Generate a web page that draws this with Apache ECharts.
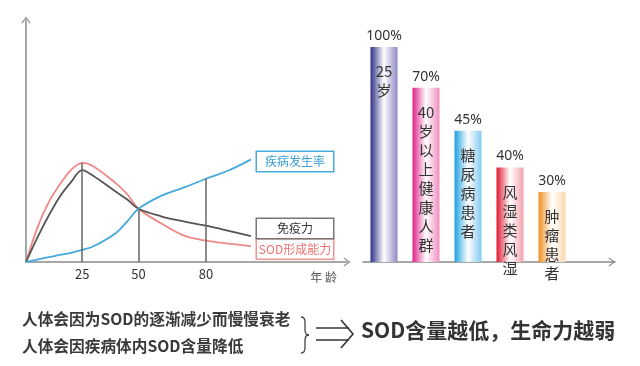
<!DOCTYPE html>
<html>
<head>
<meta charset="utf-8">
<script src="https://cdn.jsdelivr.net/npm/echarts@6/dist/echarts.min.js"></script>
<style>
html,body{margin:0;padding:0;background:#fff;}
#chart{width:640px;height:366px;}
</style>
</head>
<body>
<div id="chart"></div>
<script>
// ---- Left chart data (age vs relative level) ----
const ages = [0, 5, 10, 15, 20, 25, 30, 40, 45, 50, 60, 70, 80, 90, 100];
const sodAbility = [0, 14, 24.5, 32, 38, 41, 39.5, 32.5, 28, 22, 16, 11, 8.8, 7.6, 6.6];
const immunity = [0, 10, 19, 27, 33, 38, 35.5, 29, 25.8, 22, 18.9, 16.8, 15, 12.9, 10.7];
const diseaseRate = [0, 1, 2, 2.9, 3.8, 5, 6.5, 12, 16.8, 22, 27.3, 30.7, 34.4, 37.8, 42.4];
const ageTicks = [25, 50, 80];
const lineNames = ['疾病发生率', '免疫力', 'SOD形成能力'];

// ---- Right chart data ----
const groups = ['25\n岁', '40\n岁\n以\n上\n健\n康\n人\n群', '糖\n尿\n病\n患\n者', '风\n湿\n类\n风\n湿', '肿\n瘤\n患\n者'];
const percentLabels = ['100%', '70%', '45%', '40%', '30%'];
const barLength = [100, 81, 61, 44, 32.6];

// ---- Bottom texts ----
const noteLines = ['人体会因为SOD的逐渐减少而慢慢衰老', '人体会因疾病体内SOD含量降低'];
const conclusion = 'SOD含量越低，生命力越弱';

const FONT = '"Noto Sans CJK SC", "Noto Sans", sans-serif';
const barGrad = [
  ['#303088', '#ffffff', '#8e8ac6'],
  ['#e0208a', '#ffffff', '#ef8fc0'],
  ['#1c9fe0', '#ffffff', '#86caf0'],
  ['#e0182e', '#ffffff', '#f2a2aa'],
  ['#f29020', '#ffffff', '#fcd9b2']
];

const chevron = 'path://M0,7 L5,0 L10,7 L8.8,7.6 L5,2 L1.2,7.6 Z';

function pairs(vals) { return ages.map((a, i) => [a, vals[i]]); }

const dropData = ageTicks.map(a => {
  const i = ages.indexOf(a);
  const h = Math.max(sodAbility[i], immunity[i], diseaseRate[i]);
  return [{ coord: [a, 0] }, { coord: [a, h] }];
});

function endLbl(name, color, textColor, dy) {
  return {
    show: true,
    formatter: '{t|' + name + '}',
    distance: 6,
    offset: [0, dy],
    borderColor: color,
    borderWidth: 1.5,
    backgroundColor: '#fff',
    padding: [2, 0],
    rich: { t: { width: 76, align: 'center', color: textColor, fontSize: 12, lineHeight: 15, fontFamily: FONT } }
  };
}

const chart = echarts.init(document.getElementById('chart'), null, { renderer: 'canvas' });

const braceStyle = { stroke: '#444', lineWidth: 1.3, fill: null };
const arrowStyle = { stroke: '#333', lineWidth: 1.6, fill: null };

const option = {
  backgroundColor: '#fff',
  animation: false,
  grid: [
    { left: 26, top: 20, width: 321, bottom: 104 },
    { left: 363, top: 47, width: 252, bottom: 104 }
  ],
  xAxis: [
    {
      type: 'value', gridIndex: 0, min: 0, max: 142.67,
      axisLine: { show: true, lineStyle: { color: '#8a8a8a', width: 1.5 }, symbol: ['none', chevron], symbolSize: [10, 7] },
      axisTick: { show: false },
      splitLine: { show: false },
      axisLabel: { customValues: ageTicks, color: '#333', fontSize: 13, margin: 6, fontFamily: FONT },
      name: '年 龄', nameLocation: 'end', nameGap: -10,
      nameTextStyle: { align: 'right', verticalAlign: 'top', padding: [9, 0, 0, 0], color: '#555', fontSize: 12, fontFamily: FONT }
    },
    {
      type: 'category', gridIndex: 1, data: groups.concat(['']),
      axisLine: { show: true, lineStyle: { color: '#8a8a8a', width: 1.5 }, symbol: ['none', chevron], symbolSize: [10, 7], symbolOffset: [0, -3] },
      axisTick: { show: false },
      axisLabel: { show: false },
      splitLine: { show: false }
    }
  ],
  yAxis: [
    {
      type: 'value', gridIndex: 0, min: 0, max: 100,
      axisLine: { show: true, lineStyle: { color: '#8a8a8a', width: 1.5 }, symbol: ['none', chevron], symbolSize: [10, 7] },
      axisTick: { show: false }, axisLabel: { show: false }, splitLine: { show: false }
    },
    {
      type: 'value', gridIndex: 1, min: 0, max: 100, show: false
    }
  ],
  series: [
    {
      name: lineNames[2], type: 'line', xAxisIndex: 0, yAxisIndex: 0,
      data: pairs(sodAbility), smooth: 0.35, symbol: 'none',
      lineStyle: { color: '#f08888', width: 1.8 },
      endLabel: endLbl(lineNames[2], '#f29494', '#ef7070', 3),
      z: 3
    },
    {
      name: lineNames[1], type: 'line', xAxisIndex: 0, yAxisIndex: 0,
      data: pairs(immunity), smooth: 0.35, symbol: 'none',
      lineStyle: { color: '#555', width: 1.8 },
      endLabel: endLbl(lineNames[1], '#777', '#333', -7.5),
      z: 3
    },
    {
      name: lineNames[0], type: 'line', xAxisIndex: 0, yAxisIndex: 0,
      data: pairs(diseaseRate), smooth: 0.4, symbol: 'none',
      lineStyle: { color: '#45aadb', width: 1.8 },
      endLabel: endLbl(lineNames[0], '#45aadb', '#3a9fd4', 2),
      markLine: {
        silent: true, symbol: ['none', 'none'], label: { show: false },
        lineStyle: { color: '#666', width: 1.5, type: 'solid' },
        data: dropData
      },
      z: 3
    },
    {
      type: 'bar', xAxisIndex: 1, yAxisIndex: 1, barWidth: 27,
      data: barLength.map((v, i) => ({
        value: v,
        itemStyle: {
          color: {
            type: 'linear', x: 0, y: 0, x2: 1, y2: 0,
            colorStops: [
              { offset: 0, color: barGrad[i][0] },
              { offset: 0.5, color: barGrad[i][1] },
              { offset: 1, color: barGrad[i][2] }
            ]
          }
        }
      })),
      label: {
        show: true, position: 'top', distance: 4,
        formatter: p => percentLabels[p.dataIndex],
        color: '#333', fontSize: 14, fontFamily: '"Noto Sans", sans-serif'
      }
    },
    {
      type: 'bar', xAxisIndex: 1, yAxisIndex: 1, barWidth: 27, barGap: '-100%',
      data: barLength.slice(),
      itemStyle: { color: 'rgba(0,0,0,0)' },
      label: {
        show: true, position: 'insideTop', distance: 15,
        formatter: p => groups[p.dataIndex],
        color: '#333', fontSize: 15, lineHeight: 19, fontFamily: FONT
      },
      z: 4
    }
  ],
  graphic: {
    elements: [
      { type: 'text', x: 22, y: 311, style: { text: noteLines[0], fill: '#3a3a3a', font: 'bold 15.7px ' + FONT } },
      { type: 'text', x: 22, y: 338, style: { text: noteLines[1], fill: '#3a3a3a', font: 'bold 15.7px ' + FONT } },
      { type: 'bezierCurve', shape: { x1: 301, y1: 317, cpx1: 305, cpy1: 317, x2: 305, y2: 322 }, style: braceStyle },
      { type: 'line', shape: { x1: 305, y1: 322, x2: 305, y2: 330 }, style: braceStyle },
      { type: 'bezierCurve', shape: { x1: 305, y1: 330, cpx1: 305, cpy1: 335, x2: 309, y2: 335 }, style: braceStyle },
      { type: 'bezierCurve', shape: { x1: 309, y1: 335, cpx1: 305, cpy1: 335, x2: 305, y2: 340 }, style: braceStyle },
      { type: 'line', shape: { x1: 305, y1: 340, x2: 305, y2: 348 }, style: braceStyle },
      { type: 'bezierCurve', shape: { x1: 305, y1: 348, cpx1: 305, cpy1: 353, x2: 301, y2: 353 }, style: braceStyle },
      { type: 'line', shape: { x1: 316, y1: 328, x2: 349, y2: 328 }, style: arrowStyle },
      { type: 'line', shape: { x1: 316, y1: 340, x2: 349, y2: 340 }, style: arrowStyle },
      { type: 'polyline', shape: { points: [[341, 320], [353, 334], [341, 348]] }, style: arrowStyle },
      { type: 'text', x: 361, y: 320, style: { text: conclusion, fill: '#333', font: 'bold 21px ' + FONT } }
    ]
  }
};
chart.setOption(option);
</script>
</body>
</html>
